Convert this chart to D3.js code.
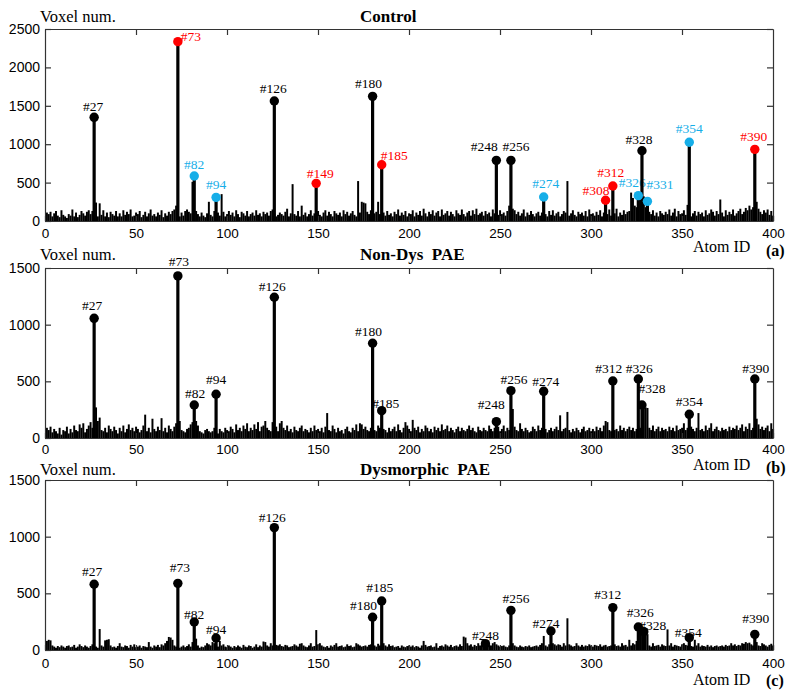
<!DOCTYPE html>
<html><head><meta charset="utf-8">
<script src="https://cdn.jsdelivr.net/npm/d3@7"></script>
<style>body{margin:0;background:#fff}</style>
</head><body><svg id="c" width="800" height="697"></svg>
<script>
// ---------- DATA ----------
const xTicks = [0, 50, 100, 150, 200, 250, 300, 350, 400];
const controlYTicks = [0, 500, 1000, 1500, 2000, 2500];
const paeYTicks = [0, 500, 1000, 1500];

// background voxel counts, atoms 1..400
const controlNoise = [
110,90,120,60,100,130,70,50,140,80,
60,40,90,70,150,60,110,50,80,130,
100,70,120,140,90,130,100,240,60,230,
80,140,60,110,50,120,90,70,130,60,
100,60,140,80,120,90,150,60,70,110,
90,130,50,80,120,60,100,150,70,90,
60,110,80,140,50,100,70,120,90,130,
150,200,90,60,110,70,130,150,120,100,
510,140,130,90,60,110,70,50,100,250,
80,60,130,90,110,70,350,120,60,90,
130,80,110,60,140,90,50,120,100,70,
130,60,90,110,70,140,80,100,60,120,
90,110,70,130,150,100,60,80,110,90,
70,120,160,60,100,480,90,70,130,60,
200,80,110,60,90,140,70,100,120,130,
80,60,110,140,70,120,90,60,130,100,
80,110,60,140,90,120,70,100,130,80,
60,520,110,250,240,230,120,90,140,110,
100,120,250,90,140,110,70,130,80,100,
60,120,90,150,70,110,80,130,60,100,
90,140,60,110,80,130,70,160,100,60,
120,90,140,70,110,130,60,150,80,100,
130,70,120,90,60,140,100,80,150,90,
60,110,130,70,140,90,160,80,100,120,
70,130,90,110,60,150,100,120,80,140,
90,110,70,130,200,180,160,140,90,120,
70,100,150,60,110,80,130,90,60,100,
120,70,110,150,90,60,130,80,140,70,
100,120,60,90,130,110,520,70,100,140,
80,60,120,90,110,70,130,60,150,90,
100,70,120,80,140,60,110,130,90,150,
70,120,100,160,60,110,80,140,90,120,
130,370,300,200,180,240,280,260,320,180,
150,120,90,140,70,110,60,130,100,80,
120,90,150,70,110,160,60,130,90,100,
140,80,210,110,60,100,130,70,120,90,
110,60,140,80,100,150,120,70,130,90,
280,110,60,140,80,120,90,150,70,100,
130,160,90,120,170,140,200,150,180,130,
250,160,120,90,140,110,150,80,130,70
];
const nonDysNoise = [
90,70,100,50,80,60,40,90,30,70,
60,100,40,80,50,110,70,60,120,90,
130,50,80,110,140,90,60,270,150,180,
70,60,90,50,110,80,60,100,70,40,
90,60,110,50,80,120,70,90,60,100,
80,50,70,110,206,60,90,50,170,80,
60,100,70,175,60,90,50,110,80,60,
100,130,90,150,70,60,50,80,90,120,
140,130,150,110,60,50,40,70,80,60,
50,60,90,70,40,80,60,50,90,70,
60,100,80,50,120,70,90,60,110,80,
130,60,90,70,120,80,140,60,100,110,
150,90,70,60,140,80,100,60,130,150,
90,70,110,60,80,50,100,70,60,90,
110,60,80,70,50,90,60,110,70,80,
60,90,50,100,220,70,60,110,80,50,
90,60,70,40,80,100,60,50,90,70,
120,60,130,120,80,100,70,60,90,110,
70,60,110,90,60,80,70,50,90,60,
80,100,60,120,70,50,90,140,110,80,
60,160,90,70,100,50,80,60,110,90,
60,80,50,100,70,90,60,120,70,80,
110,60,90,70,50,80,100,60,90,70,
60,80,110,70,90,60,50,100,70,60,
90,70,60,110,80,60,90,70,100,60,
80,110,60,90,70,120,256,100,70,60,
130,80,60,90,70,50,60,100,80,60,
110,70,90,60,80,50,70,90,60,80,
100,70,200,60,80,90,230,70,50,80,
60,90,70,50,80,100,60,70,90,60,
80,60,100,70,90,60,110,150,140,70,
60,90,70,80,60,110,70,90,60,80,
100,70,90,60,80,110,90,100,260,270,
265,90,70,110,60,80,100,60,90,70,
80,60,100,70,90,60,110,70,80,90,
130,70,90,60,100,80,60,90,220,70,
80,60,110,70,90,130,60,80,100,70,
60,90,70,80,60,100,70,90,80,110,
70,90,120,60,100,80,130,70,90,110,
170,120,80,100,70,90,110,60,130,80
];
const dysNoise = [
80,90,85,40,30,20,35,25,40,30,
20,35,40,25,30,45,20,30,50,35,
25,40,30,20,35,50,40,30,20,185,
40,30,85,90,95,40,25,30,20,35,
60,30,25,40,35,20,45,30,50,25,
30,40,20,35,30,25,70,30,20,40,
30,45,25,50,40,60,80,115,110,90,
40,30,50,20,30,40,25,35,50,30,
70,60,100,40,20,30,25,40,60,50,
40,70,60,50,30,80,40,50,30,25,
40,30,20,35,25,40,30,20,45,30,
25,40,35,20,30,50,25,40,30,75,
70,40,30,60,40,50,45,40,50,35,
30,45,40,25,30,35,50,40,30,55,
60,40,30,25,40,60,30,35,176,50,
60,40,30,25,35,20,40,30,45,60,
30,35,40,25,30,50,35,40,25,30,
60,50,40,30,35,40,30,45,50,30,
40,30,55,40,30,60,40,30,50,35,
40,25,30,35,20,40,30,25,35,40,
30,40,25,35,30,20,40,80,45,30,
35,40,25,30,60,20,35,40,30,50,
40,30,45,25,35,40,30,50,35,118,
110,60,40,50,30,45,35,60,40,50,
60,45,80,50,40,60,70,50,40,30,
35,40,30,25,40,50,60,40,30,25,
40,30,25,35,30,40,25,30,35,40,
30,45,60,124,40,30,50,35,60,50,
40,50,45,30,60,40,280,50,40,30,
35,60,40,30,45,30,40,35,50,40,
30,45,40,35,50,30,40,45,30,35,
40,30,50,35,40,30,60,40,45,30,
90,40,60,50,80,190,200,180,185,150,
140,40,30,60,35,40,45,30,50,40,
35,182,40,60,30,45,40,35,30,50,
60,45,40,50,35,30,90,40,60,30,
40,35,30,45,30,40,25,35,40,30,
35,40,30,45,35,40,60,40,50,35,
45,40,60,55,70,60,65,50,40,60,
70,40,35,60,50,40,30,45,55,40
];

// highlighted atoms
const controlPeakAtoms  = [27,73,82,94,126,149,180,185,248,256,274,308,312,326,328,331,354,390];
const controlPeakValues = [1350,2335,586,308,1562,490,1623,733,790,790,312,270,456,330,915,256,1025,933];
const controlPeakGroup  = ['k','r','b','b','k','r','k','r','k','k','b','r','r','b','k','b','b','r'];

const nonDysPeakAtoms  = [27,73,82,94,126,180,185,248,256,274,312,326,328,354,390];
const nonDysPeakValues = [1056,1430,291,386,1242,836,241,144,418,412,503,521,291,209,521];

const dysPeakAtoms  = [27,73,82,94,126,180,185,242,256,278,312,326,329,354,390];
const dysPeakLabels = ['#27','#73','#82','#94','#126','#180','#185','#248','#256','#274','#312','#326','#328','#354','#390'];
const dysPeakValues = [580,588,247,106,1080,289,432,56,350,168,374,203,162,109,138];

// ---------- LAYOUT / STYLE ----------
const groupColor = {k:'#000', r:'#ff0000', b:'#16aee8'};
// label nudges: [dx, dy(baseline rel. marker centre), anchor]
const controlNudge = [[-1,-6,'middle'],[3,-1,'start'],[0,-7,'middle'],[0,-8,'middle'],[-1,-8,'middle'],[4,-5,'middle'],
  [-4,-8,'middle'],[-1,-5,'start'],[-12,-9,'middle'],[5,-9,'middle'],[2,-9,'middle'],[4,-5,'end'],[-2,-9,'middle'],
  [-6,-9,'middle'],[-3,-7,'middle'],[-1,-12,'start'],[0,-9,'middle'],[-1,-8,'middle']];
const nonDysNudge = [[-2,-8],[1,-10],[1,-7],[0,-10],[-2,-6],[-4,-7],[4,-3],[-5,-13],[3,-7],[2,-5],[-4,-8],[1,-6],[10,-12],[0,-8],[1,-6]];
const dysNudge = [[-2,-8],[2,-11],[0,-3],[0,-4],[-2,-6],[-9,-7],[-2,-9],[0,-4],[5,-7],[-5,-3],[-5,-9],[2,-10],[9,-2],[-1,-1],[1,-11]];

const SERIF = '"Liberation Serif","Times New Roman",Times,serif';
const SANS = '"Liberation Sans",Arial,Helvetica,sans-serif';

const svg = d3.select('#c');
const x = d3.scaleLinear().domain([0, 400]).range([45, 773]);
const barW = x(1) - x(0);

const panels = [
  {noise: controlNoise, atoms: controlPeakAtoms, values: controlPeakValues, groups: controlPeakGroup,
   labels: controlPeakAtoms.map(a => '#' + a), nudge: controlNudge,
   yMax: 2500, yTicks: controlYTicks, top: 29, bottom: 221, title: 'Control', titleY: 22,
   xPad: 7.6, atomY: 252, tagY: 256, tag: '(a)'},
  {noise: nonDysNoise, atoms: nonDysPeakAtoms, values: nonDysPeakValues, groups: null,
   labels: nonDysPeakAtoms.map(a => '#' + a), nudge: nonDysNudge,
   yMax: 1500, yTicks: paeYTicks, top: 268, bottom: 438, title: 'Non-Dys\u00a0 PAE', titleY: 260,
   xPad: 6.6, atomY: 470, tagY: 472.5, tag: '(b)'},
  {noise: dysNoise, atoms: dysPeakAtoms, values: dysPeakValues, groups: null,
   labels: dysPeakLabels, nudge: dysNudge,
   yMax: 1500, yTicks: paeYTicks, top: 480, bottom: 650, title: 'Dysmorphic\u00a0 PAE', titleY: 475,
   xPad: 8.4, atomY: 685, tagY: 686, tag: '(c)'}
];

panels.forEach(p => {
  const y = d3.scaleLinear().domain([0, p.yMax]).range([p.bottom, p.top]);
  const g = svg.append('g');

  // noise bars
  g.append('g').selectAll('rect').data(p.noise).join('rect')
    .attr('x', (d, i) => x(i + 1) - barW / 2)
    .attr('width', barW + 0.15)
    .attr('y', d => y(d))
    .attr('height', d => y(0) - y(d))
    .attr('fill', '#000');

  // axes
  const axL = d3.axisLeft(y).tickValues(p.yTicks).tickFormat(d3.format('d'))
    .tickSizeInner(-6).tickSizeOuter(0).tickPadding(5);
  const axR = d3.axisRight(y).tickValues(p.yTicks.slice(1)).tickSizeInner(-6).tickSizeOuter(0).tickFormat('');
  const axB = d3.axisBottom(x).tickValues(xTicks).tickFormat(d3.format('d'))
    .tickSizeInner(-5).tickSizeOuter(0).tickPadding(p.xPad);
  const axT = d3.axisTop(x).tickValues(xTicks.slice(1, -1)).tickSizeInner(-6).tickSizeOuter(0).tickFormat('');

  const gl = g.append('g').attr('transform', `translate(${x(0)},0)`).call(axL);
  const gr = g.append('g').attr('transform', `translate(${x(400)},0)`).call(axR);
  const gb = g.append('g').attr('transform', `translate(0,${y(0)})`).call(axB);
  const gt = g.append('g').attr('transform', `translate(0,${y(p.yMax)})`).call(axT);
  [gl, gr, gb, gt].forEach(a => {
    a.selectAll('path.domain').attr('stroke', '#333').attr('stroke-width', 1.2);
    a.selectAll('line').attr('stroke', '#333').attr('stroke-width', 1.2);
  });
  gl.selectAll('text').attr('font-family', SANS).attr('font-size', 14).attr('fill', '#000');
  gb.selectAll('text').attr('font-family', SANS).attr('font-size', 13.5).attr('fill', '#000');

  // peak labels
  const peaks = p.atoms.map((a, i) => ({a, v: p.values[i], g: p.groups ? p.groups[i] : 'k', lab: p.labels[i], n: p.nudge[i]}));
  g.append('g').selectAll('text').data(peaks).join('text')
    .attr('x', d => x(d.a) + d.n[0])
    .attr('y', d => y(d.v) + d.n[1])
    .attr('text-anchor', d => d.n[2] || 'middle')
    .attr('font-family', SERIF).attr('font-size', 13.5)
    .attr('fill', d => groupColor[d.g])
    .text(d => d.lab);

  // stems
  g.append('g').selectAll('line').data(peaks).join('line')
    .attr('x1', d => x(d.a)).attr('x2', d => x(d.a))
    .attr('y1', y(0)).attr('y2', d => y(d.v))
    .attr('stroke', '#000').attr('stroke-width', 3.2);

  // markers
  g.append('g').selectAll('circle').data(peaks).join('circle')
    .attr('cx', d => x(d.a)).attr('cy', d => y(d.v)).attr('r', 4.7)
    .attr('fill', d => groupColor[d.g]);

  // texts
  svg.append('text').attr('x', 40).attr('y', p.titleY)
    .attr('font-family', SERIF).attr('font-size', 16.5).text('Voxel num.');
  svg.append('text').attr('x', 360).attr('y', p.titleY)
    .attr('font-family', SERIF).attr('font-size', 17).attr('font-weight', 'bold').text(p.title);
  svg.append('text').attr('x', 693).attr('y', p.atomY)
    .attr('font-family', SERIF).attr('font-size', 16).text('Atom ID');
  svg.append('text').attr('x', 766).attr('y', p.tagY)
    .attr('font-family', SERIF).attr('font-size', 16).attr('font-weight', 'bold').text(p.tag);
});
</script></body></html>
